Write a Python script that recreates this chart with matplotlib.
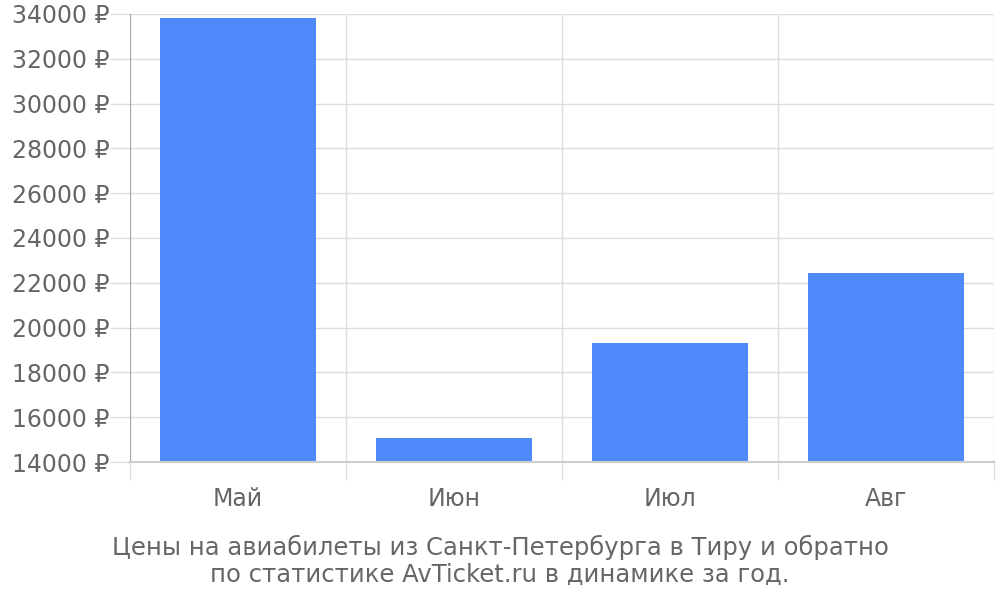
import numpy as np
import matplotlib.pyplot as plt
from matplotlib.ticker import FixedLocator

# Chart data
months = ["Май", "Июн", "Июл", "Авг"]
prices = [33820, 15070, 19310, 22440]
y_ticks = [14000, 16000, 18000, 20000, 22000, 24000, 26000, 28000, 30000, 32000, 34000]
caption = "Цены на авиабилеты из Санкт-Петербурга в Тиру и обратно\nпо статистике AvTicket.ru в динамике за год."

plt.rcParams["font.family"] = ["DejaVu Sans"]
text_color = "#666666"
grid_color = "#dddddd"

fig = plt.figure(figsize=(10, 6), dpi=100)
ax = fig.add_axes([0.13, 0.23, 0.864, 0.7467])

x = np.arange(len(months))
ax.bar(x, np.array(prices) - y_ticks[0], bottom=y_ticks[0], width=0.72,
       color="#4d89f9", zorder=3)

ax.set_xlim(-0.5, len(months) - 0.5)
ax.set_ylim(y_ticks[0], y_ticks[-1])

# y axis
ax.set_yticks(y_ticks)
ax.set_yticklabels([f"{v} ₽" for v in y_ticks], color=text_color, fontsize=17)
ax.tick_params(axis="y", length=14.5, width=1, color=grid_color, pad=0)
ax.yaxis.grid(True, color=grid_color, linewidth=1, zorder=0)

# x axis: labels centred, ticks/grid at band boundaries
ax.set_xticks(x)
ax.set_xticklabels(months, color=text_color, fontsize=17)
ax.tick_params(axis="x", which="major", length=0, pad=18)
ax.xaxis.set_minor_locator(FixedLocator(np.arange(-0.5, len(months), 1.0)))
ax.tick_params(axis="x", which="minor", length=13, width=1, color=grid_color)
ax.xaxis.grid(True, which="minor", color=grid_color, linewidth=1, zorder=0)

for side in ["top", "right"]:
    ax.spines[side].set_visible(False)
ax.spines["left"].set_color("#aaaaaa")
ax.spines["bottom"].set_color("#cccccc")
ax.spines["bottom"].set_linewidth(1.5)
ax.spines["bottom"].set_zorder(4)

fig.text(0.5, 1 - 561 / 600, caption, ha="center", va="center",
         color=text_color, fontsize=17.5, linespacing=1.15)

fig.savefig("out.png", dpi=100)
